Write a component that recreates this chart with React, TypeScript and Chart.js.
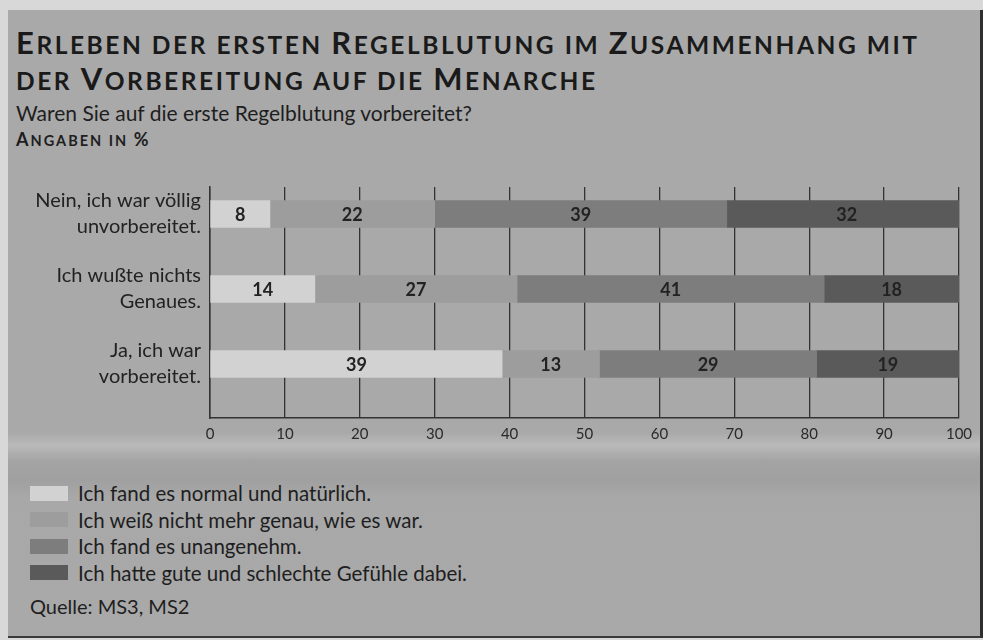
import React, { useEffect, useRef } from 'react';
import { Chart, registerables } from 'chart.js';

Chart.register(...registerables);

const titleLines = ['Erleben der ersten Regelblutung im Zusammenhang mit', 'der Vorbereitung auf die Menarche'];
const subtitle = 'Waren Sie auf die erste Regelblutung vorbereitet?';
const unitNote = 'Angaben in %';
const sourceNote = 'Quelle: MS3, MS2';

const categories: string[][] = [
  ['Nein, ich war völlig', 'unvorbereitet.'],
  ['Ich wußte nichts', 'Genaues.'],
  ['Ja, ich war', 'vorbereitet.'],
];

const seriesNames = [
  'Ich fand es normal und natürlich.',
  'Ich weiß nicht mehr genau, wie es war.',
  'Ich fand es unangenehm.',
  'Ich hatte gute und schlechte Gefühle dabei.',
];

const normalValues = [8, 14, 39];
const weissNichtValues = [22, 27, 13];
const unangenehmValues = [39, 41, 29];
const gemischtValues = [32, 18, 19];

const seriesValues = [normalValues, weissNichtValues, unangenehmValues, gemischtValues];
const seriesColors = ['#d2d2d2', '#9d9d9d', '#7d7d7d', '#5a5a5a'];

const xTickValues = [0, 10, 20, 30, 40, 50, 60, 70, 80, 90, 100];

const FONT = 'Lato, "Noto Sans", sans-serif';

const valueLabelPlugin = {
  id: 'valueLabels',
  afterDatasetsDraw(chart: any) {
    const ctx = chart.ctx;
    ctx.save();
    ctx.font = `bold 18px ${FONT}`;
    ctx.fillStyle = '#222';
    ctx.textAlign = 'center';
    ctx.textBaseline = 'middle';
    chart.data.datasets.forEach((ds: any, di: number) => {
      const meta = chart.getDatasetMeta(di);
      meta.data.forEach((el: any, i: number) => {
        const v = ds.data[i].x;
        const cx = (el.x + el.base) / 2;
        ctx.fillText(String(v), cx, el.y + 1);
      });
    });
    ctx.restore();
  },
};

function SmallCaps({ text, big, small }: { text: string; big: number; small: number }) {
  const runs: { upper: boolean; s: string }[] = [];
  for (const ch of text) {
    const isUpper = ch !== ch.toLowerCase() || (/[^a-zäöüß]/.test(ch) && ch !== ' ');
    const upper = ch === ' ' ? (runs.length ? runs[runs.length - 1].upper : false) : isUpper;
    if (runs.length && runs[runs.length - 1].upper === upper) runs[runs.length - 1].s += ch;
    else runs.push({ upper, s: ch });
  }
  return (
    <>
      {runs.map((r, i) => (
        <span key={i} style={{ fontSize: r.upper ? big : small, textTransform: 'uppercase' }}>
          {r.s}
        </span>
      ))}
    </>
  );
}

function BarChart() {
  const ref = useRef<HTMLCanvasElement | null>(null);
  useEffect(() => {
    if (!ref.current) return;
    const chart = new Chart(ref.current, {
      type: 'bar',
      data: {
        datasets: seriesNames.map((name, s) => ({
          label: name,
          data: seriesValues[s].map((v, i) => ({ x: v, y: i })),
          backgroundColor: seriesColors[s],
          borderWidth: 0,
          barThickness: 27,
        })),
      },
      options: {
        indexAxis: 'y',
        animation: false,
        responsive: false,
        layout: { padding: { top: 17, right: 24, left: 0, bottom: 0 } },
        plugins: {
          legend: { display: false },
          tooltip: { enabled: false },
          title: { display: false },
        },
        scales: {
          x: {
            type: 'linear',
            min: 0,
            max: 100,
            stacked: true,
            afterBuildTicks: (scale: any) => {
              scale.ticks = xTickValues.map((v) => ({ value: v }));
            },
            afterFit: (scale: any) => {
              scale.height = 42;
            },
            ticks: {
              padding: 7,
              color: '#2a2a2a',
              font: { family: FONT, size: 15 },
            },
            grid: {
              color: '#333',
              lineWidth: 1.3,
              drawTicks: false,
            },
            border: { display: true, color: '#333', width: 1.5 },
          },
          y: {
            type: 'linear',
            min: -0.36,
            max: 2.72,
            reverse: true,
            stacked: true,
            offset: false,
            afterBuildTicks: (scale: any) => {
              scale.ticks = categories.map((_, i) => ({ value: i }));
            },
            afterFit: (scale: any) => {
              scale.width = 210;
              scale.paddingTop = 0;
              scale.paddingBottom = 0;
            },
            ticks: {
              padding: 9,
              color: '#222',
              font: { family: FONT, size: 20, lineHeight: 1.3 },
              callback: (v: any) => categories[v] as any,
            },
            grid: { display: false, drawTicks: false, offset: false },
            border: { display: true, color: '#333', width: 1.5 },
          },
        },
      } as any,
      plugins: [valueLabelPlugin],
    });
    return () => chart.destroy();
  }, []);
  return (
    <canvas
      ref={ref}
      width={983}
      height={290}
      style={{ position: 'absolute', left: 0, top: 170, width: 983, height: 290 }}
    />
  );
}

export default function App() {
  return (
    <div
      style={{
        position: 'fixed',
        left: 0,
        top: 0,
        width: 983,
        height: 640,
        background: '#d8d8d8',
        overflow: 'hidden',
        fontFamily: FONT,
        color: '#1e1e1e',
      }}
    >
      <div
        style={{
          position: 'absolute',
          left: 8,
          top: 10,
          width: 972,
          height: 626,
          borderRight: '3px solid #2e2e2e',
          borderBottom: '2px solid #3a3a3a',
          background:
            'linear-gradient(to bottom, #a9a9a9 0%, #a9a9a9 67.5%, #bababa 69.5%, #a4a4a4 72%, #a0a0a0 75%, #a8a8a8 78%, #a9a9a9 100%)',
        }}
      />
      <div
        style={{
          position: 'absolute',
          left: 16,
          top: 27,
          fontWeight: 700,
          letterSpacing: 2.55,
          lineHeight: '31px',
          color: '#1a1a1a',
          whiteSpace: 'nowrap',
        }}
      >
        {titleLines.map((l, i) => (
          <div key={i}>
            <SmallCaps text={l} big={31} small={24.5} />
          </div>
        ))}
      </div>
      <div
        style={{
          position: 'absolute',
          left: 16,
          top: 100,
          fontSize: 21,
          lineHeight: '26px',
          whiteSpace: 'nowrap',
        }}
      >
        {subtitle}
      </div>
      <div
        style={{
          position: 'absolute',
          left: 16,
          top: 128,
          fontWeight: 700,
          letterSpacing: 2,
          lineHeight: '22px',
          whiteSpace: 'nowrap',
        }}
      >
        <SmallCaps text={unitNote} big={18} small={14.5} />
      </div>
      <BarChart />
      <div style={{ position: 'absolute', left: 30, top: 480 }}>
        {seriesNames.map((name, i) => (
          <div key={i} style={{ display: 'flex', alignItems: 'center', height: 26.5 }}>
            <span
              style={{
                display: 'inline-block',
                width: 38,
                height: 15,
                background: seriesColors[i],
                marginRight: 10,
              }}
            />
            <span style={{ fontSize: 20.5, whiteSpace: 'nowrap' }}>{name}</span>
          </div>
        ))}
      </div>
      <div
        style={{
          position: 'absolute',
          left: 30,
          top: 594,
          fontSize: 20,
          whiteSpace: 'nowrap',
        }}
      >
        {sourceNote}
      </div>
    </div>
  );
}
